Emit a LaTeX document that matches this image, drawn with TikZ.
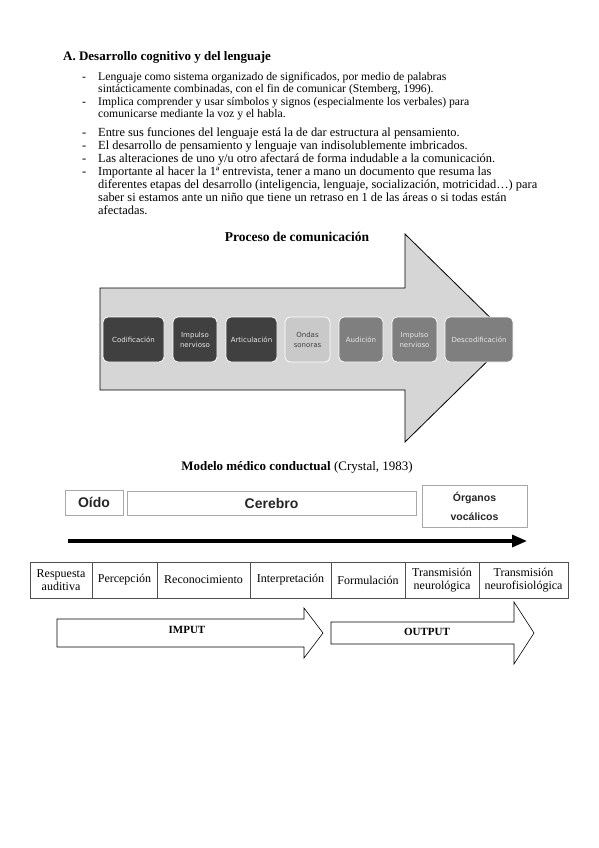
\documentclass[tikz,border=0pt]{standalone}
\usepackage{fontspec}
\setmainfont{Liberation Serif}
\newfontfamily\arialf{Liberation Sans}
\newfontfamily\djs{DejaVu Sans}
\usetikzlibrary{arrows.meta}
\definecolor{arrowgray}{HTML}{D6D6D6}
\definecolor{darkbox}{HTML}{404040}
\definecolor{lightbox}{HTML}{C9C9C9}
\definecolor{midbox}{HTML}{7F7F7F}
\definecolor{boxtext}{HTML}{E8E8E8}
\definecolor{frame}{HTML}{A8A8A8}
\definecolor{tline}{HTML}{505050}
\tikzset{
  smallline/.style={anchor=base west, inner sep=0pt, font=\fontsize{11.7}{12}\selectfont},
  bodyline/.style={anchor=base west, inner sep=0pt, font=\fontsize{12.4}{13}\selectfont},
  procbox/.style={rounded corners=5pt, draw=white, line width=0.8pt, minimum height=45pt, inner sep=1pt, align=center, font=\djs\fontsize{7}{10}\selectfont},
  modelbox/.style={draw=frame, line width=0.6pt, inner sep=0pt, align=center, text=black!85, font=\arialf\bfseries\fontsize{14}{16}\selectfont},
  cell/.style={draw=tline, line width=0.5pt, minimum height=36pt, inner sep=0pt, align=center, font=\fontsize{12}{13.5}\selectfont},
  bigarrow/.style={draw=black, line width=0.6pt, fill=white},
}
\begin{document}
\begin{tikzpicture}[x=1pt,y=-1pt]
\useasboundingbox (0,0) rectangle (599,848);
\fill[white] (0,0) rectangle (599,848);

% heading and list
\node[anchor=base west, inner sep=0pt, font=\fontsize{13}{14}\selectfont\bfseries] (title) at (63,61) {A. Desarrollo cognitivo y del lenguaje};
\node[smallline] (b1) at (82,81) {-};
\node[smallline] (l1) at (98,81) {Lenguaje como sistema organizado de significados, por medio de palabras};
\node[smallline] (l2) at (98,93) {sintácticamente combinadas, con el fin de comunicar (Stemberg, 1996).};
\node[smallline] (b2) at (82,105.5) {-};
\node[smallline] (l3) at (98,105.5) {Implica comprender y usar símbolos y signos (especialmente los verbales) para};
\node[smallline] (l4) at (98,117.5) {comunicarse mediante la voz y el habla.};
\node[bodyline] (b3) at (82,136.5) {-};
\node[bodyline] (l5) at (98,136.5) {Entre sus funciones del lenguaje está la de dar estructura al pensamiento.};
\node[bodyline] (b4) at (82,149.5) {-};
\node[bodyline] (l6) at (98,149.5) {El desarrollo de pensamiento y lenguaje van indisolublemente imbricados.};
\node[bodyline] (b5) at (82,162.5) {-};
\node[bodyline] (l7) at (98,162.5) {Las alteraciones de uno y/u otro afectará de forma indudable a la comunicación.};
\node[bodyline] (b6) at (82,175.5) {-};
\node[bodyline] (l8) at (98,175.5) {Importante al hacer la 1ª entrevista, tener a mano un documento que resuma las};
\node[bodyline] (l9) at (98,188.5) {diferentes etapas del desarrollo (inteligencia, lenguaje, socialización, motricidad…) para};
\node[bodyline] (l10) at (98,201.5) {saber si estamos ante un niño que tiene un retraso en 1 de las áreas o si todas están};
\node[bodyline] (l11) at (98,214.5) {afectadas.};

% Proceso de comunicacion
\node[inner sep=0pt, font=\fontsize{13.5}{14}\selectfont\bfseries] (ptitle) at (297,237) {Proceso de comunicación};
\draw[draw=black, line width=0.8pt, fill=arrowgray] (100,288) -- (405,288) -- (405,234) -- (511,338) -- (405,442) -- (405,390) -- (100,390) -- cycle;
\node[procbox, fill=darkbox, text=boxtext, minimum width=61pt] (p1) at (133.5,339.5) {Codificación};
\node[procbox, fill=darkbox, text=boxtext, minimum width=44pt] (p2) at (195,339.5) {Impulso\\nervioso};
\node[procbox, fill=darkbox, text=boxtext, minimum width=51pt] (p3) at (251.5,339.5) {Articulación};
\node[procbox, fill=lightbox, text=darkbox, minimum width=45pt] (p4) at (307.5,339.5) {Ondas\\sonoras};
\node[procbox, fill=midbox, text=boxtext, minimum width=44pt] (p5) at (361,339.5) {Audición};
\node[procbox, fill=midbox, text=boxtext, minimum width=45pt] (p6) at (414.5,339.5) {Impulso\\nervioso};
\node[procbox, fill=midbox, text=boxtext, minimum width=68pt] (p7) at (479,339.5) {Descodificación};

% Modelo medico conductual
\node[inner sep=0pt, font=\fontsize{13}{14}\selectfont] (mtitle) at (297,467) {\textbf{Modelo médico conductual} (Crystal, 1983)};
\node[modelbox, minimum width=58pt, minimum height=25pt] (oido) at (94,502.5) {Oído};
\node[modelbox, minimum width=289pt, minimum height=24pt] (cerebro) at (271.5,503) {Cerebro};
\node[modelbox, minimum width=105pt, minimum height=42pt, font=\arialf\bfseries\fontsize{10.5}{19}\selectfont] (organos) at (474.5,506) {Órganos\\vocálicos};
\coordinate (ma) at (68,541);
\coordinate (mb) at (527,541);
\draw[line width=3.2pt, -{Triangle[length=15pt,width=12pt]}] (ma) -- (mb);

% table
\node[cell, minimum width=62pt] (c1) at (61,580) {Respuesta\\auditiva};
\node[cell, minimum width=65pt] (c2) at (124.5,580) {Percepción};
\node[cell, minimum width=93pt] (c3) at (203.5,580) {Reconocimiento};
\node[cell, minimum width=81pt] (c4) at (290.5,580) {Interpretación};
\node[cell, minimum width=74pt] (c5) at (368,580) {Formulación};
\node[cell, minimum width=74pt] (c6) at (442,580) {Transmisión\\neurológica};
\node[cell, minimum width=89pt] (c7) at (523.5,580) {Transmisión\\neurofisiológica};

% IMPUT / OUTPUT
\draw[bigarrow] (57,619) -- (304,619) -- (304,608) -- (323,633) -- (304,658) -- (304,647) -- (57,647) -- cycle;
\node[inner sep=0pt, font=\fontsize{11}{13}\selectfont\bfseries] (imput) at (187,630) {IMPUT};
\draw[bigarrow] (331,622) -- (514,622) -- (514,602) -- (534,633) -- (514,664) -- (514,644) -- (331,644) -- cycle;
\node[inner sep=0pt, font=\fontsize{11}{13}\selectfont\bfseries] (output) at (427,632) {OUTPUT};
\end{tikzpicture}
\end{document}
